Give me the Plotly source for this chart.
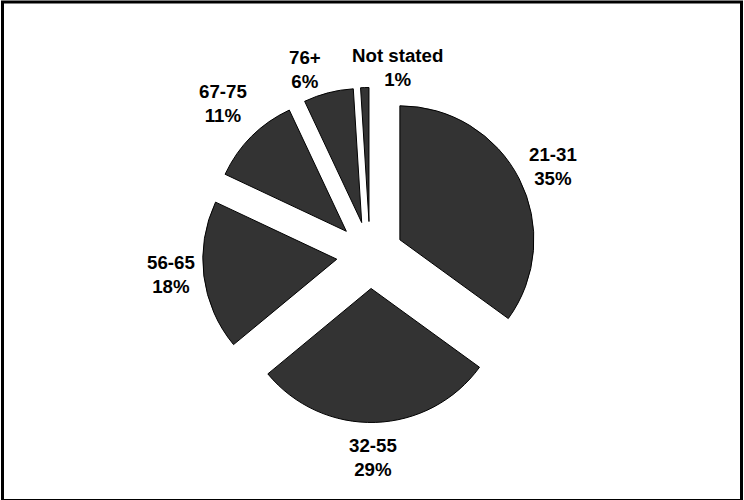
import math
import plotly.graph_objects as go

# Age bands and their share of respondents (percent)
age_bands = ["21-31", "32-55", "56-65", "67-75", "76+", "Not stated"]
shares = [35, 29, 18, 11, 6, 1]

W, H = 744, 500
PULL = 0.25
DOMAIN_X = [0.2722, 0.7225]
DOMAIN_Y = [0.155, 0.825]
FONT = "Liberation Sans, Arial, sans-serif"

# Label placement: distance of each label block from the pie centre (in radii)
# plus small radial / angular nudges so the narrow top slices do not collide.
LABEL_DIST = 1.515
label_nudge_r = [0.0, 0.0, -0.02, 0.06, -0.05, -0.10]
label_nudge_deg = [1.2, 1.0, 1.5, 1.0, -5.0, 10.0]

fig = go.Figure(
    go.Pie(
        labels=age_bands,
        values=shares,
        sort=False,
        direction="clockwise",
        rotation=0,
        pull=[PULL] * len(shares),
        marker=dict(colors=["#333333"] * len(shares), line=dict(color="#000000", width=1)),
        textinfo="none",
        automargin=False,
        showlegend=False,
        hoverinfo="label+percent",
        domain=dict(x=DOMAIN_X, y=DOMAIN_Y),
    )
)

# Pie geometry in pixels, as plotly lays it out (radius shrinks by 1 + max pull)
cx = (DOMAIN_X[0] + DOMAIN_X[1]) / 2 * W
cy = (DOMAIN_Y[0] + DOMAIN_Y[1]) / 2 * H
radius = min((DOMAIN_X[1] - DOMAIN_X[0]) * W, (DOMAIN_Y[1] - DOMAIN_Y[0]) * H) / 2 / (1 + PULL)

total = sum(shares)
start = 0.0
for band, v, nr, nd in zip(age_bands, shares, label_nudge_r, label_nudge_deg):
    mid = (start + v / 2) / total * 360.0 + nd  # clockwise from 12 o'clock
    start += v
    dist = radius * (LABEL_DIST + nr)
    a = math.radians(mid)
    px = cx + dist * math.sin(a)
    py = cy + dist * math.cos(a)  # measured upward from bottom
    fig.add_annotation(
        x=px / W, y=py / H, xref="paper", yref="paper",
        xanchor="center", yanchor="middle", showarrow=False,
        text=f"<b>{band}<br>{round(v / total * 100)}%</b>",
        font=dict(family=FONT, size=18.7, color="#000000"),
        align="center",
    )

# Chart frame
fig.add_shape(
    type="rect", xref="paper", yref="paper",
    x0=2.5 / W, x1=741.5 / W, y0=-0.5 / H, y1=498 / H,
    line=dict(color="#000000", width=3), fillcolor="rgba(0,0,0,0)",
)

fig.update_layout(
    width=W,
    height=H,
    margin=dict(l=0, r=0, t=0, b=0),
    paper_bgcolor="#ffffff",
    plot_bgcolor="#ffffff",
    font=dict(family=FONT, color="#000000"),
)

fig.write_html("out.html")
